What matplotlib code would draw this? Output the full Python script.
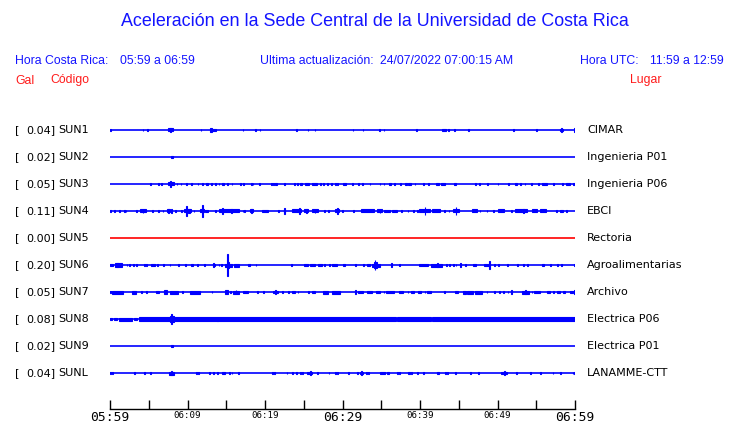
import matplotlib
matplotlib.use("Agg")
import matplotlib.pyplot as plt

# ---------------- data ----------------
stations = ["SUN1", "SUN2", "SUN3", "SUN4", "SUN5", "SUN6", "SUN7", "SUN8", "SUN9", "SUNL"]
peak_values = [0.04, 0.02, 0.05, 0.11, 0.00, 0.20, 0.05, 0.08, 0.02, 0.04]
places = ["CIMAR", "Ingenieria P01", "Ingenieria P06", "EBCI", "Rectoria",
          "Agroalimentarias", "Archivo", "Electrica P06", "Electrica P01", "LANAMME-CTT"]
trace_colors = ["blue", "blue", "blue", "blue", "red", "blue", "blue", "blue", "blue", "blue"]

tick_minutes = [0, 5, 10, 15, 20, 25, 30, 35, 40, 45, 50, 55, 60]
tick_labels = ["05:59", "", "06:09", "", "06:19", "", "06:29", "", "06:39", "", "06:49", "", "06:59"]
big_labels = ["05:59", "06:29", "06:59"]

# bursts: (start minute, end minute, half amplitude in px)
sun1 = [(0.0,0.15,1.3),(4.2,4.3,1.3),(4.8,4.9,1.3),(7.5,8.1,1.5),(7.8,7.9,2.3),(11.7,11.8,1.3),
        (12.9,13.1,2.3),(13.1,13.7,1.3),(17.1,17.2,0.7),(18.7,18.8,1.3),(19.3,19.4,0.7),(24.0,24.1,1.3),
        (25.5,25.6,0.7),(26.4,26.5,1.3),(31.3,31.4,1.3),(32.6,32.7,0.7),(34.7,34.8,1.3),(35.3,35.4,1.3),
        (39.5,39.6,1.3),(42.8,43.4,1.3),(43.6,43.7,1.0),(44.4,44.5,0.7),(46.2,46.3,1.3),(52.0,52.1,1.3),
        (55.0,55.1,0.7),(58.1,58.4,1.3),(58.2,58.3,2.3),(59.9,60.0,2.3)]
sun2 = [(7.9,8.1,1.0)]
sun3 = [(5.2,5.3,1.3),(6.2,6.3,0.7),(6.6,6.7,1.3),(7.5,8.3,1.5),(7.8,7.9,3.0),(8.6,8.7,1.0),(9.1,9.2,1.3),
        (9.8,9.9,1.0),(10.4,10.6,1.3),(11.3,11.4,1.0),(11.9,12.0,1.3),(12.4,12.6,1.3),(13.0,13.2,1.3),
        (13.6,13.7,1.0),(14.0,14.1,1.0),(14.4,14.7,1.3),(15.1,15.2,1.0),(15.7,15.8,0.7),(16.8,16.9,1.3),
        (17.2,17.3,1.3),(18.2,18.3,0.7),(18.4,18.5,1.3),(19.2,19.3,1.3),(20.8,20.9,0.7),(21.0,21.1,1.0),
        (21.3,21.5,1.3),(22.4,22.6,1.3),(23.8,23.9,1.0),(24.1,24.2,1.3),(24.5,24.6,1.0),(24.7,24.8,1.3),
        (25.2,25.7,1.3),(26.0,26.7,1.3),(27.1,27.2,1.0),(27.5,27.6,1.0),(28.0,28.1,1.3),(28.5,28.6,1.0),
        (29.0,29.1,1.3),(29.3,29.4,1.3),(30.0,30.5,1.3),(31.2,31.3,1.0),(32.0,32.1,0.7),(32.5,32.6,1.3),
        (33.5,33.6,1.0),(34.8,34.9,1.0),(35.3,35.4,1.0),(36.0,36.2,1.3),(36.6,36.8,1.3),(37.4,37.5,1.0),
        (38.0,38.3,1.3),(38.5,38.9,1.3),(39.3,39.4,1.0),(40.4,40.5,1.0),(41.0,41.1,1.3),(42.0,42.4,1.0),
        (42.7,43.2,1.3),(44.4,44.7,1.3),(47.1,47.2,1.0),(47.6,47.7,1.0),(48.7,48.8,0.7),(50.0,50.1,0.7),
        (51.4,51.5,1.0),(52.3,52.5,1.3),(52.9,53.0,1.3),(53.5,53.6,1.0),(54.3,54.4,1.0),(55.2,55.3,1.0),
        (55.7,56.4,1.3),(57.2,57.3,1.0),(58.3,58.5,1.3),(58.9,59.3,1.3),(59.8,60.0,1.3)]
sun4 = [(0.0,0.15,1.3),(0.5,0.6,0.7),(1.2,1.3,0.7),(1.8,1.9,1.0),(2.0,2.1,1.0),(3.4,3.5,0.7),(3.9,4.6,1.5),
        (4.2,4.3,2.0),(5.4,5.5,0.7),(6.2,6.3,1.0),(6.8,6.9,1.0),(7.3,7.7,1.5),(7.5,7.6,2.3),(7.9,8.0,2.0),
        (8.4,8.5,1.0),(9.2,9.3,0.7),(9.6,10.5,1.5),(9.8,9.9,4.7),(10.0,10.3,2.0),(10.8,10.9,1.0),
        (11.6,12.1,1.5),(11.85,11.95,6.3),(12.3,12.6,1.3),(13.6,13.7,1.0),(14.0,16.6,1.5),(14.5,14.6,3.0),
        (15.6,15.8,2.0),(17.1,17.2,0.7),(17.3,17.4,1.0),(18.0,18.4,1.5),(18.2,18.3,2.3),(19.6,20.4,1.3),
        (21.7,21.8,1.0),(22.4,22.6,1.3),(22.5,22.6,2.7),(23.5,24.6,1.5),(24.4,24.5,3.0),(25.0,25.6,1.5),
        (25.3,25.4,2.3),(26.0,26.9,1.5),(26.4,26.5,2.0),(27.6,27.7,1.0),(28.1,28.2,1.0),(29.0,29.6,1.5),
        (29.3,29.4,2.7),(29.9,30.0,1.3),(31.4,31.5,0.7),(32.4,34.0,1.5),(34.5,35.1,1.5),(34.8,34.9,1.7),
        (35.3,36.1,1.3),(36.4,37.0,1.3),(37.6,37.7,1.0),(38.4,38.5,1.0),(39.1,39.2,1.0),(39.6,39.7,1.0),
        (39.9,41.3,1.5),(40.6,40.7,4.0),(41.5,42.6,1.5),(43.1,43.2,1.0),(43.7,43.8,1.0),(44.3,45.0,1.5),
        (44.6,44.7,4.0),(46.7,47.3,1.5),(47.7,47.8,1.0),(48.6,48.7,1.3),(49.4,49.5,1.3),(50.0,50.8,1.5),
        (51.8,51.9,1.0),(52.3,53.8,1.5),(53.3,53.4,2.3),(54.5,55.1,1.5),(55.5,56.3,1.5),(57.6,57.7,1.0),
        (58.1,58.5,1.3),(58.9,59.0,1.0)]
sun5 = []
sun6 = [(0.0,0.45,1.3),(0.65,1.6,1.7),(0.9,1.0,2.3),(2.15,2.25,1.0),(2.45,2.55,1.0),(3.0,3.1,1.0),
        (3.4,3.5,1.3),(4.4,4.5,0.7),(4.7,4.8,1.0),(5.3,5.8,1.3),(6.1,6.2,1.0),(6.9,7.0,0.7),(7.7,7.8,1.3),
        (8.8,8.9,0.7),(9.7,9.8,1.0),(10.5,10.75,1.3),(11.2,11.3,0.7),(12.1,12.2,1.3),(13.25,13.55,1.3),
        (13.35,13.45,2.3),(14.0,14.1,1.0),(14.3,14.4,1.3),(14.9,15.7,1.5),(15.1,15.2,11.0),(15.2,15.4,2.7),
        (16.0,16.6,1.5),(17.8,18.0,1.3),(18.8,18.9,1.3),(23.3,23.5,1.3),(25.0,25.6,1.3),(25.8,26.4,1.3),
        (26.9,27.3,1.3),(27.6,27.7,1.0),(28.3,28.4,1.0),(28.7,29.3,1.3),(30.1,30.3,1.3),(31.6,31.7,1.0),
        (32.7,32.8,1.3),(33.1,33.5,1.3),(33.8,34.8,1.5),(34.0,34.4,3.0),(34.15,34.25,4.7),(36.3,36.4,2.0),
        (37.3,37.4,0.7),(39.9,41.0,1.3),(41.4,42.8,1.5),(42.2,42.3,2.0),(43.4,43.5,1.0),(43.8,43.9,1.0),
        (44.3,44.4,1.0),(44.6,44.7,1.0),(45.1,45.3,1.7),(45.8,45.9,0.7),(46.8,47.2,1.3),(48.3,49.0,1.3),
        (48.95,49.05,4.0),(49.5,49.7,1.3),(50.1,50.2,1.0),(51.2,51.3,0.7),(52.5,52.6,0.7),(53.3,53.4,1.0),
        (53.8,53.9,1.3),(55.7,56.0,1.3),(56.8,56.9,0.7),(57.7,57.8,1.0),(58.2,58.3,1.0),(59.9,60.0,1.3)]
sun7 = [(0.0,0.1,1.0),(0.3,1.7,1.5),(2.8,3.3,1.5),(4.0,4.1,0.7),(4.7,4.8,1.0),(5.9,6.3,1.3),(7.0,7.3,1.7),
        (7.7,8.8,1.5),(9.3,9.4,1.0),(10.3,11.6,1.5),(13.1,13.2,1.3),(14.8,15.2,1.7),(15.5,15.6,1.0),
        (15.9,16.6,1.5),(16.2,16.3,2.0),(17.2,17.8,1.3),(19.0,19.1,1.0),(19.8,19.9,0.7),(21.0,21.7,1.3),
        (21.3,21.4,2.0),(22.2,22.3,1.0),(23.0,23.1,0.7),(23.5,23.9,1.3),(24.2,24.3,1.0),(25.6,25.7,0.7),
        (26.0,26.5,1.3),(27.5,28.1,1.5),(28.7,29.7,1.5),(31.6,31.7,1.7),(32.05,32.7,1.3),(33.1,33.8,1.3),
        (34.3,34.9,1.3),(35.3,35.4,0.7),(35.6,36.6,1.3),(37.3,37.85,1.3),(38.4,38.5,1.0),(38.8,39.2,1.3),
        (39.8,40.1,1.3),(40.6,40.7,1.0),(40.95,41.4,1.3),(43.1,43.2,1.0),(44.5,44.95,1.3),(45.6,45.9,1.5),
        (46.1,46.8,1.5),(47.1,48.0,1.5),(48.6,48.7,1.0),(49.55,49.65,1.0),(50.2,50.3,1.0),(50.75,50.85,1.0),
        (51.3,51.4,0.7),(51.8,51.9,2.0),(53.1,54.0,1.5),(53.6,53.7,1.7),(54.4,54.5,1.0),(54.7,55.5,1.3),
        (56.4,56.8,1.3),(57.2,57.3,1.0),(57.7,58.1,1.3),(58.4,58.75,1.3),(59.3,59.8,1.3),(59.9,60.0,2.0)]
sun8 = [(0.0,0.3,1.3),(0.56,0.86,1.3),(1.2,2.8,1.5),(3.1,3.5,1.3),(3.8,36.9,1.8),(37.05,41.4,1.8),
        (41.55,60.0,1.8),(7.7,8.3,2.7),(7.9,8.05,5.0),(12.6,12.7,2.0),(13.8,13.9,1.5),(44.2,44.3,2.3)]
sun9 = [(7.9,8.1,1.0)]
sunl = [(0.0,0.1,1.0),(0.3,0.4,1.0),(3.1,3.2,1.0),(4.4,4.5,0.7),(5.2,5.3,1.0),(7.65,8.2,1.5),(7.9,8.0,2.0),
        (11.1,11.2,1.0),(11.4,11.5,1.0),(12.8,12.9,0.7),(13.3,13.4,1.3),(13.8,13.9,1.0),(14.4,14.9,1.3),
        (15.4,15.5,1.0),(15.7,15.8,1.0),(16.5,16.6,0.7),(20.9,21.0,0.7),(21.2,21.3,1.0),(22.8,22.9,1.0),
        (23.5,23.6,1.0),(24.0,24.1,1.3),(24.5,24.6,1.0),(24.8,24.9,1.0),(25.4,26.0,1.3),(25.8,25.9,1.7),
        (26.7,26.8,1.0),(28.2,28.3,0.7),(29.0,29.1,1.0),(29.3,29.4,1.3),(30.75,30.85,1.0),(31.9,32.0,1.0),
        (32.3,32.6,1.3),(32.4,32.5,1.7),(33.0,33.1,1.0),(33.3,33.4,1.0),(34.9,35.5,1.3),(35.8,36.05,1.3),
        (37.0,37.1,1.0),(37.3,37.4,1.0),(38.5,38.7,1.3),(38.9,39.0,1.0),(39.6,39.7,1.0),(40.4,40.5,0.7),
        (42.2,42.4,1.3),(43.2,43.3,1.0),(43.5,43.6,1.0),(44.5,44.6,1.0),(46.5,46.6,1.0),(47.5,47.6,1.0),
        (50.5,51.2,1.3),(50.9,51.0,1.7),(52.4,52.5,0.7),(54.2,54.3,1.0),(55.5,55.6,0.7),(57.1,57.2,0.7),
        (58.1,58.2,1.0),(59.7,59.8,1.0),(59.9,60.0,1.3)]
station_events = [sun1, sun2, sun3, sun4, sun5, sun6, sun7, sun8, sun9, sunl]

# ---------------- figure ----------------
W, H = 740, 423
fig = plt.figure(figsize=(W / 100, H / 100), dpi=100)
BLUE = "#1414ff"
RED = "#ff1a1a"
HDR = "Liberation Sans"

def fx(px):
    return px / W

def fy(py):
    return 1 - py / H

# axes placement (pixels): traces x 110..575, rows at y=130 + 27*i, axis line at 409
ROW0, ROWSTEP, AXBOT, AXTOP = 130, 27, 409, 118
ax = fig.add_axes([fx(110), fy(AXBOT), fx(575) - fx(110), (AXBOT - AXTOP) / H])
ax.set_xlim(0, 60)
ax.set_ylim((AXBOT - ROW0) / ROWSTEP, (AXTOP - ROW0) / ROWSTEP)
px = 1.0 / ROWSTEP  # one pixel in row units

for i, (ev, col) in enumerate(zip(station_events, trace_colors)):
    ax.hlines(i, 0, 60, color=col, lw=1.2, zorder=2)
    if ev:
        starts = [e[0] for e in ev]
        widths = [e[1] - e[0] for e in ev]
        amps = [e[2] * px for e in ev]
        ax.bar(starts, [2 * a for a in amps], width=widths, bottom=[i - a for a in amps],
               align="edge", color=col, edgecolor=col, linewidth=0.8, zorder=3)

for s in ["top", "left", "right"]:
    ax.spines[s].set_visible(False)
ax.spines["bottom"].set_linewidth(1.0)
ax.set_yticks([])
ax.set_xticks(tick_minutes)
ax.set_xticklabels(tick_labels, family="DejaVu Sans Mono")
ax.tick_params(axis="x", direction="in", length=6.5, width=1.0, pad=1.5, labelsize=6.6)
for lab in ax.get_xticklabels():
    if lab.get_text() in big_labels:
        lab.set_fontsize(9.4)

# left labels and right labels
for i, (st, pk, pl) in enumerate(zip(stations, peak_values, places)):
    y = fy(ROW0 + ROWSTEP * i)
    fig.text(fx(15), y, "[", ha="left", va="center", fontsize=8, family="DejaVu Sans")
    fig.text(fx(55.5), y, f"{pk:.2f}]", ha="right", va="center", fontsize=8, family="DejaVu Sans")
    fig.text(fx(58), y, st, ha="left", va="center", fontsize=8, family="DejaVu Sans")
    fig.text(fx(587), y, pl, ha="left", va="center", fontsize=8, family="DejaVu Sans")

# headers
fig.text(fx(375), fy(22), "Aceleración en la Sede Central de la Universidad de Costa Rica",
         ha="center", va="center", fontsize=12.9, color=BLUE, family=HDR)
fig.text(fx(15), fy(60.5), "Hora Costa Rica:", ha="left", va="center", fontsize=8.8, color=BLUE, family=HDR)
fig.text(fx(120), fy(60.5), "05:59 a 06:59", ha="left", va="center", fontsize=8.8, color=BLUE, family=HDR)
fig.text(fx(260), fy(60.5), "Ultima actualización:", ha="left", va="center", fontsize=8.8, color=BLUE, family=HDR)
fig.text(fx(380), fy(60.5), "24/07/2022 07:00:15 AM", ha="left", va="center", fontsize=8.8, color=BLUE, family=HDR)
fig.text(fx(580), fy(60.5), "Hora UTC:", ha="left", va="center", fontsize=8.8, color=BLUE, family=HDR)
fig.text(fx(650), fy(60.5), "11:59 a 12:59", ha="left", va="center", fontsize=8.8, color=BLUE, family=HDR)
fig.text(fx(15), fy(80.5), "Gal", ha="left", va="center", fontsize=8.8, color=RED, family=HDR)
fig.text(fx(50), fy(80.5), "Código", ha="left", va="center", fontsize=8.8, color=RED, family=HDR)
fig.text(fx(630), fy(80.5), "Lugar", ha="left", va="center", fontsize=8.8, color=RED, family=HDR)

fig.savefig("out.png", dpi=100, facecolor="white")
